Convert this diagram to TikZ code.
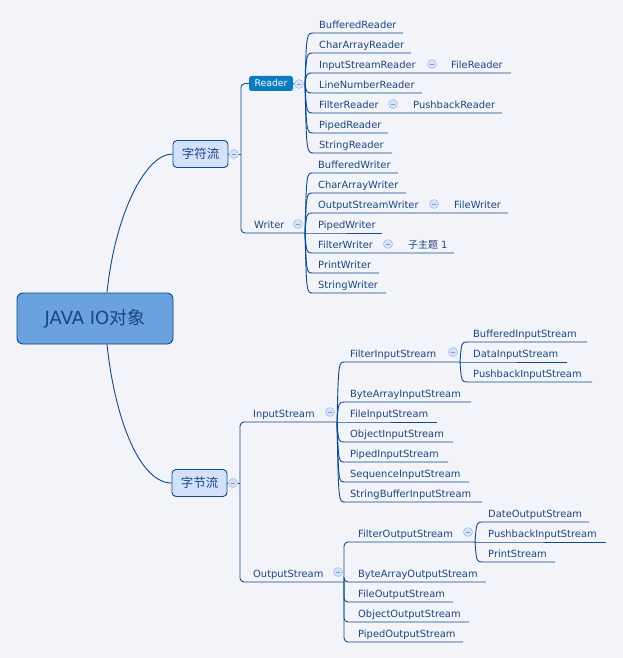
\documentclass[tikz,border=0pt]{standalone}
\usepackage{fontspec}
\setmainfont{DejaVu Sans}
\newfontfamily\cjk{Noto Sans CJK SC}
\usetikzlibrary{calc}
\definecolor{bg}{HTML}{F3F4F9}
\definecolor{ln}{HTML}{0E4A8C}
\definecolor{txt}{HTML}{1A4580}
\definecolor{rootfill}{HTML}{69A2DF}
\definecolor{midfill}{HTML}{D3E1FB}
\definecolor{rdrfill}{HTML}{0A7DC1}
\definecolor{cfill}{HTML}{D6E2F8}
\definecolor{cdraw}{HTML}{A9C0EA}
\newcommand\leafcurve[6]{%
  \node[leaf] (#1) at (#3,#4-4.5) {#6};
  \coordinate (#1s) at (#3-5,#4);
  \coordinate (#1e) at (#5,#4);
  \draw[conn] let \p1=(#2), \p2=(#1s) in (#2) .. controls (\x1+1.5pt,\y2) .. (#1s) -- (#1e);
}
\newcommand\leafelbow[6]{%
  \node[leaf] (#1) at (#3,#4-4.5) {#6};
  \coordinate (#1e) at (#5,#4);
  \draw[conn, rounded corners=4pt] (#2) |- (#1e);
}
\newcommand\colnode[3]{%
  \node[colc] (#1) at (#2,#3) {};
  \draw[cdraw!70!ln, line width=0.6pt] ([xshift=-2.2pt]#1.center) -- ([xshift=2.2pt]#1.center);
}
\begin{document}
\begin{tikzpicture}[x=1pt,y=-1pt,
  leaf/.style={font=\fontsize{9.9}{11}\selectfont, text=txt, inner sep=0pt, anchor=base west},
  conn/.style={draw=ln, line width=0.9pt},
  colc/.style={circle, minimum size=9pt, inner sep=0pt, fill=cfill, draw=cdraw, line width=0.6pt},
  rootbox/.style={draw=ln, line width=0.9pt, fill=rootfill, rounded corners=6pt, minimum width=156pt, minimum height=51pt, text=txt, font=\fontsize{18}{20}\selectfont},
  midbox/.style={draw=ln, line width=0.9pt, fill=midfill, rounded corners=4pt, minimum width=55pt, minimum height=27pt, inner sep=0pt, text=txt, font=\fontsize{12.5}{14}\selectfont\cjk},
  rdrbox/.style={fill=rdrfill, rounded corners=2.5pt, minimum width=44pt, minimum height=15pt, inner sep=0pt, text=white, font=\fontsize{9.3}{11}\selectfont}
]
\useasboundingbox[fill=bg] (0,0) rectangle (623,658);

% root and main branches
\node[rootbox] (root) at (95,318.5) {JAVA IO{\cjk 对象}};
\node[midbox] (cs) at (200.5,154) {字符流};
\node[midbox] (bs) at (199.5,483) {字节流};
\draw[conn] ([xshift=12pt]root.north) .. controls (115,215) and (145,154) .. (cs.west);
\draw[conn] ([xshift=12pt]root.south) .. controls (115,420) and (140,483) .. (bs.west);

% character streams
\colnode{csc}{234}{154}
\coordinate (csv) at (241,154);
\coordinate (rp) at (305,84);
\coordinate (wp) at (305,233);
\node[rdrbox] (reader) at (271,83.5) {Reader};
\node[leaf] (writer) at (254,228) {Writer};
\colnode{rc}{299}{84}
\colnode{wc}{298}{224}
\draw[conn] (cs.east) -- (csc.west);
\draw[conn] (csc.east) -- (csv);
\draw[conn, rounded corners=4pt] (reader.west) -| (csv) |- (wp);
\draw[conn] (reader.east) -- (rc.west);
\draw[conn] (rc.east) -- (rp);

\leafcurve{r1}{rp}{319}{33}{403}{BufferedReader}
\leafcurve{r2}{rp}{319}{53}{411}{CharArrayReader}
\leafcurve{r3}{rp}{319}{73}{511}{InputStreamReader}
\colnode{r3c}{432}{64}
\node[leaf] (r3a) at (451,68.5) {FileReader};
\leafcurve{r4}{rp}{319}{93}{422}{LineNumberReader}
\leafcurve{r5}{rp}{319}{113}{502}{FilterReader}
\colnode{r5c}{393}{104}
\node[leaf] (r5a) at (413,108.5) {PushbackReader};
\leafcurve{r6}{rp}{319}{133}{388}{PipedReader}
\leafcurve{r7}{rp}{319}{153}{392}{StringReader}

\leafcurve{w1}{wp}{318}{173}{398}{BufferedWriter}
\leafcurve{w2}{wp}{318}{193}{406}{CharArrayWriter}
\leafcurve{w3}{wp}{318}{213}{508}{OutputStreamWriter}
\colnode{w3c}{434}{204}
\node[leaf] (w3a) at (454,208.5) {FileWriter};
\leafcurve{w4}{wp}{318}{233}{382}{PipedWriter}
\leafcurve{w5}{wp}{318}{253}{454}{FilterWriter}
\colnode{w5c}{388}{244}
\node[leaf] (w5a) at (408,248.5) {{\cjk 子主题} 1};
\leafcurve{w6}{wp}{318}{273}{379}{PrintWriter}
\leafcurve{w7}{wp}{318}{293}{386}{StringWriter}

% byte streams
\colnode{bsc}{233}{483}
\coordinate (bsv) at (240,483);
\coordinate (ip) at (337,422);
\coordinate (op) at (344,582);
\node[leaf] (instr) at (253,417) {InputStream};
\node[leaf] (outstr) at (253,577) {OutputStream};
\colnode{ic}{330}{412}
\colnode{oc}{338}{572}
\draw[conn] (bs.east) -- (bsc.west);
\draw[conn] (bsc.east) -- (bsv);
\draw[conn, rounded corners=4pt] (ip) -| (bsv) |- (op);

\leafcurve{i1}{ip}{350}{362}{460}{FilterInputStream}
\colnode{i1c}{453}{352}
\coordinate (fp) at (460,362);
\leafcurve{f1}{fp}{473}{342}{587}{BufferedInputStream}
\leafcurve{f2}{fp}{473}{362}{567}{DataInputStream}
\leafcurve{f3}{fp}{473}{382}{592}{PushbackInputStream}
\leafcurve{i2}{ip}{350}{402}{471}{ByteArrayInputStream}
\leafcurve{i3}{ip}{350}{422}{437}{FileInputStream}
\leafcurve{i4}{ip}{350}{442}{453}{ObjectInputStream}
\leafcurve{i5}{ip}{350}{462}{448}{PipedInputStream}
\leafcurve{i6}{ip}{350}{482}{469}{SequenceInputStream}
\leafcurve{i7}{ip}{350}{502}{482}{StringBufferInputStream}

\leafelbow{o1}{op}{358}{542}{475}{FilterOutputStream}
\colnode{o1c}{468}{532}
\coordinate (gp) at (475,542);
\leafcurve{g1}{gp}{488}{522}{589}{DateOutputStream}
\leafcurve{g2}{gp}{488}{542}{606}{PushbackInputStream}
\leafcurve{g3}{gp}{488}{562}{555}{PrintStream}
\leafelbow{o2}{op}{358}{582}{486}{ByteArrayOutputStream}
\leafelbow{o3}{op}{358}{602}{453}{FileOutputStream}
\leafelbow{o4}{op}{358}{622}{469}{ObjectOutputStream}
\leafelbow{o5}{op}{358}{642}{463}{PipedOutputStream}
\end{tikzpicture}
\end{document}
